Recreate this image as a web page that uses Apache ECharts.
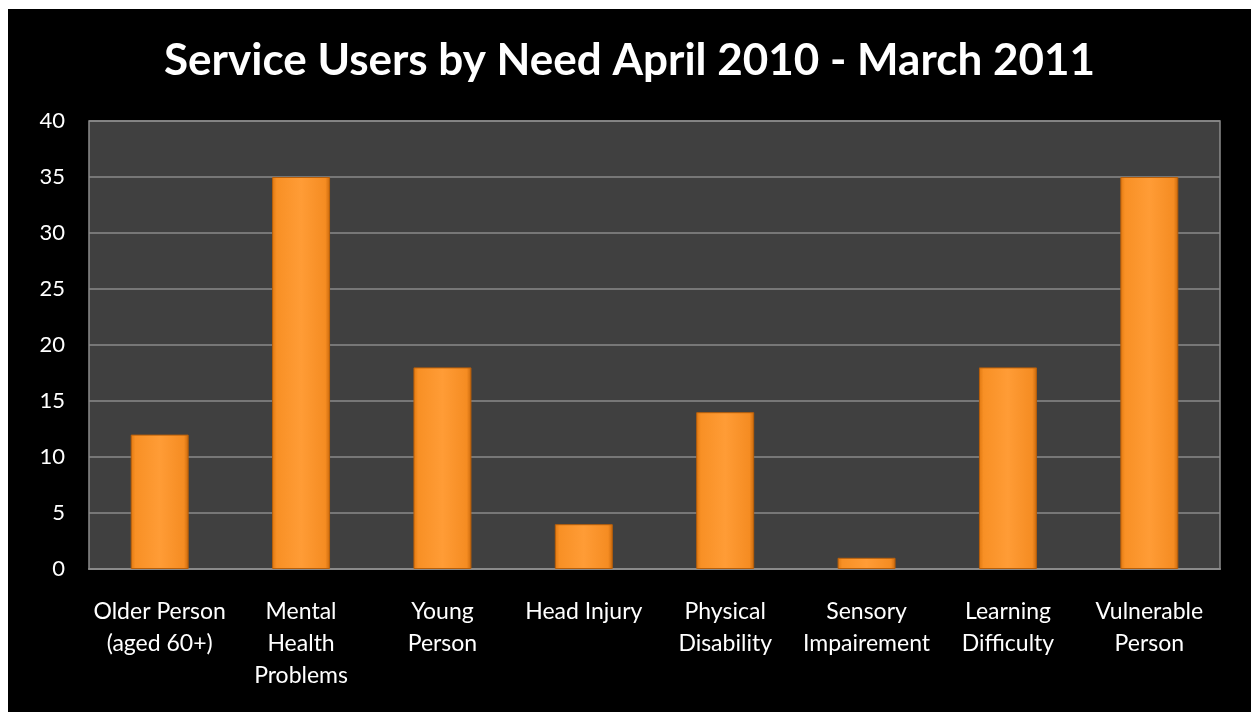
<!DOCTYPE html>
<html><head><meta charset="utf-8">
<script src="https://cdn.jsdelivr.net/npm/echarts@6/dist/echarts.min.js"></script>
<style>
html,body{margin:0;padding:0;background:#fff;width:1251px;height:712px;overflow:hidden}
#c{position:absolute;left:8px;top:9px;width:1243px;height:703px;background:#000}
</style></head><body>
<div id="c"></div>
<script>
const categories = ["Older Person\n(aged 60+)","Mental\nHealth\nProblems","Young\nPerson","Head Injury","Physical\nDisability","Sensory\nImpairement","Learning\nDifficulty","Vulnerable\nPerson"];
const values = [12,35,18,4,14,1,18,35];
const yTicks = {min:0,max:40,interval:5};
const chart = echarts.init(document.getElementById('c'));
chart.setOption({
  backgroundColor:'#000',
  animation:false,
  title:{text:'Service Users by Need April 2010 - March 2011',left:'center',top:25,
    textStyle:{color:'#fff',fontFamily:'Lato',fontWeight:'bold',fontSize:44}},
  grid:{left:81,top:112,right:31,bottom:143,show:true,backgroundColor:'#404040',borderColor:'#8a8a8a',borderWidth:1.5},
  xAxis:{type:'category',data:categories,
    axisLine:{lineStyle:{color:'#8a8a8a',width:2}},axisTick:{show:false},
    axisLabel:{color:'#fff',fontFamily:'Lato',fontSize:23,lineHeight:32,margin:27,interval:0}},
  yAxis:{type:'value',min:yTicks.min,max:yTicks.max,interval:yTicks.interval,
    axisLine:{show:false},axisTick:{show:false},
    splitLine:{lineStyle:{color:'#8a8a8a',width:1.5}},
    axisLabel:{color:'#fff',fontFamily:'Lato',fontSize:22,margin:24}},
  series:[{type:'bar',data:values,barWidth:'41%',
    itemStyle:{color:new echarts.graphic.LinearGradient(0,0,1,0,[
      {offset:0,color:'#E07810'},{offset:0.08,color:'#F89025'},{offset:0.5,color:'#FF9C36'},{offset:0.92,color:'#F58C22'},{offset:1,color:'#C8680C'}]),
      borderColor:'#B85F0A',borderWidth:1}}]
});
</script></body></html>
